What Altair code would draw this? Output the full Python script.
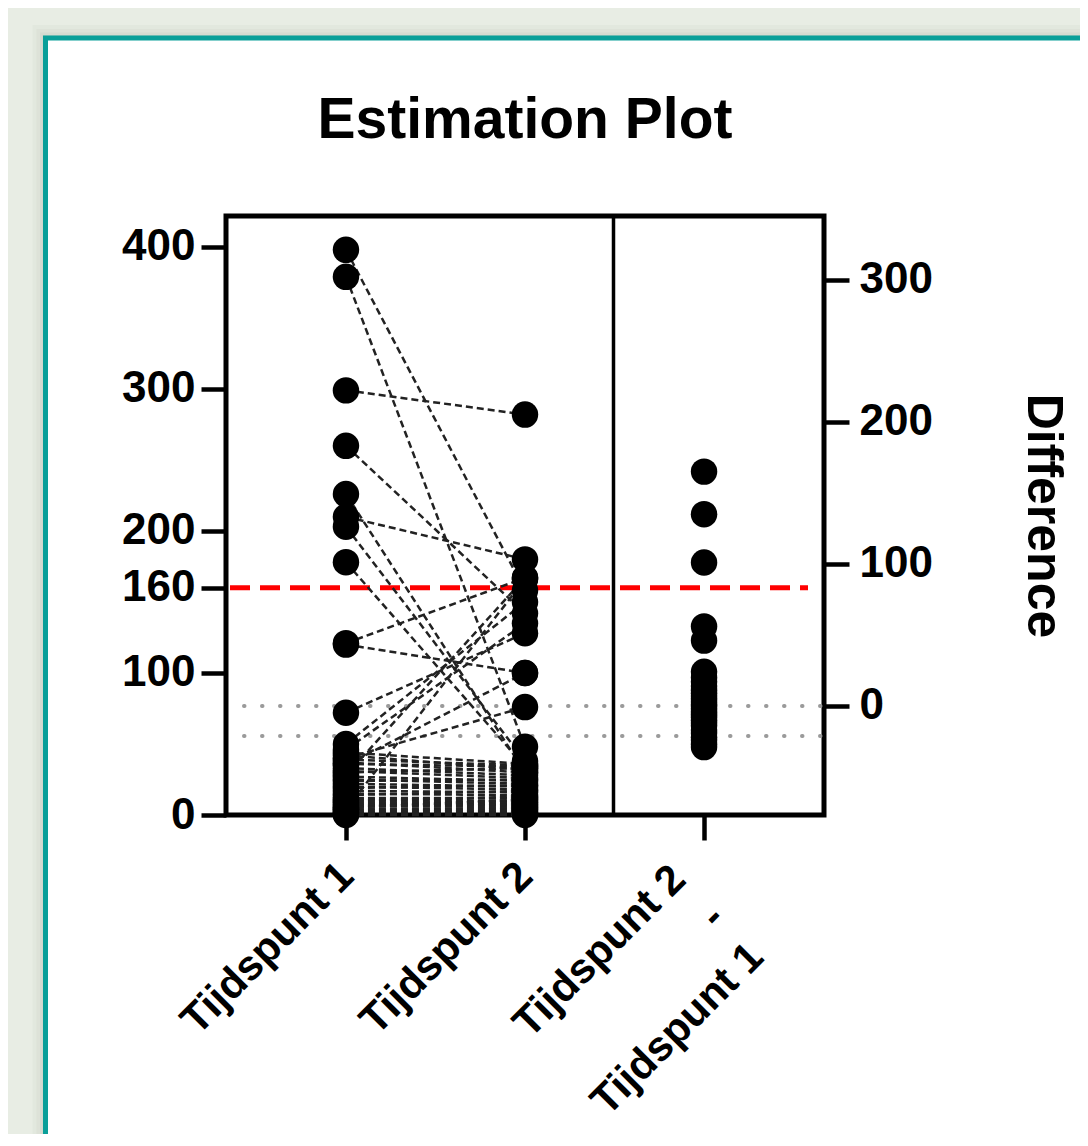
import altair as alt
import pandas as pd

# ---------------- data ----------------
title_text = "Estimation Plot"
categories = ["Tijdspunt 1", "Tijdspunt 2", "Tijdspunt 2 - Tijdspunt 1"]
diff_label_lines = ["Tijdspunt 2", "-", "Tijdspunt 1"]

t1_values = [398, 379, 299, 260, 226, 210, 203, 178, 121, 120, 72, 50, 46, 40, 35, 28, 4,
             44, 42, 39, 37, 36, 33, 31, 30, 27, 25, 24, 22, 20, 19, 17, 15, 14, 12, 11, 10,
             9, 8, 7, 6, 5, 4, 3, 2, 1, 1, 0]
t2_values = [158, 48, 282, 142, 30, 180, 38, 34, 167, 100, 128, 150, 135, 76, 100, 167, 166,
             36, 32, 35, 30, 34, 28, 26, 33, 24, 22, 25, 20, 18, 21, 16, 14, 17, 12, 10, 13,
             9, 8, 7, 6, 11, 5, 4, 3, 2, 1, 0]
diff_values = [165, 135, 101, 56, 46, 24, 20, 17, 14, 11, 9, 7, 5, 3, 1, 0, -2, -4, -6, -8,
               -10, -12, -14, -17, -19, -22, -24, -27, -29]

left_ticks = [0, 100, 160, 200, 300, 400]
right_ticks = [0, 100, 200, 300]
left_domain = [0, 421.8]
right_domain = [-76.8, 345.0]
threshold_level = [160]          # red dashed line (left scale)
dotted_levels = [76.8, 55.7]     # grey dotted lines (left scale)
right_title = "Difference"

# ---------------- layout / style ----------------
W, H = 598, 599
PAD_L, PAD_T = 218, 208
CANVAS_W, CANVAS_H = 1072, 1126
FONT = "Liberation Sans"
BG = "#e8ede4"
TEAL = "#0a9f99"
PT_SIZE = 700

rows = []
for i, (a, b) in enumerate(zip(t1_values, t2_values)):
    rows.append({"subject": i, "time": categories[0], "value": a})
    rows.append({"subject": i, "time": categories[1], "value": b})
long_df = pd.DataFrame(rows)
diff_df = pd.DataFrame({"time": [categories[2]] * len(diff_values), "diff": diff_values})
one = pd.DataFrame({"k": [0]})
thr_df = pd.DataFrame({"level": threshold_level})
dot_df = pd.DataFrame({"level": dotted_levels})

label_expr = "datum.value == '%s' ? ['%s', '%s', '%s'] : datum.label" % (
    categories[2], *diff_label_lines)
is_diff = "datum.value == '%s'" % categories[2]

x_axis = alt.Axis(
    orient="bottom", title=None, domain=False, grid=False, zindex=2,
    ticks=True, tickSize=25, tickWidth=4.5, tickColor="black",
    labelAngle=315, labelAlign="right", labelBaseline="middle",
    labelFont=FONT, labelFontSize=42, labelFontWeight="bold", labelColor="black",
    labelPadding={"condition": {"test": is_diff, "value": 32}, "value": 29},
    labelOffset={"condition": {"test": is_diff, "value": -26}, "value": 0},
    labelLimit=1000, labelOverlap=False, labelFlush=False,
    labelLineHeight=55, labelExpr=label_expr,
)
x_scale = alt.Scale(type="point", domain=categories, padding=0.67)

left_axis = alt.Axis(
    orient="left", title=None, values=left_ticks, domain=False, grid=False, zindex=2,
    tickSize=25, tickWidth=4.5, tickColor="black",
    labelFont=FONT, labelFontSize=44, labelFontWeight="bold", labelColor="black",
    labelPadding=6, labelOverlap=False, labelFlush=False,
)
right_axis = alt.Axis(
    orient="right", title=right_title, values=right_ticks, domain=False, grid=False, zindex=2,
    tickSize=25, tickWidth=4.5, tickColor="black",
    labelFont=FONT, labelFontSize=44, labelFontWeight="bold", labelColor="black",
    labelPadding=10, labelOverlap=False, labelFlush=False,
    titleFont=FONT, titleFontSize=50, titleFontWeight="bold", titleColor="black",
    titlePadding=85,
)
y_left = alt.Scale(domain=left_domain, nice=False, zero=False)
y_right = alt.Scale(domain=right_domain, nice=False, zero=False)

# ---------------- decoration: card with teal border ----------------
card_x, card_y = -180.5, -178
card_x2, card_y2 = 900, 1000
shadows = []
for w, op in [(26, 0.035), (18, 0.04), (11, 0.05), (6, 0.06)]:
    shadows.append(
        alt.Chart(one).mark_rect(fillOpacity=0, stroke="#5a6555", strokeOpacity=op, strokeWidth=w)
        .encode(x=alt.value(card_x), x2=alt.value(card_x2), y=alt.value(card_y), y2=alt.value(card_y2))
    )
card = alt.Chart(one).mark_rect(fill="white", stroke=TEAL, strokeWidth=5).encode(
    x=alt.value(card_x), x2=alt.value(card_x2), y=alt.value(card_y), y2=alt.value(card_y2))

title = alt.Chart(one).mark_text(
    text=title_text, font=FONT, fontSize=57, fontWeight="bold", color="black",
    align="center", baseline="alphabetic").encode(x=alt.value(W / 2), y=alt.value(-78))

frame = alt.Chart(one).mark_rect(fillOpacity=0, stroke="black", strokeWidth=5).encode(
    x=alt.value(0), x2=alt.value(W), y=alt.value(0), y2=alt.value(H))
divider = alt.Chart(one).mark_rule(color="black", strokeWidth=3.5).encode(
    x=alt.value(387.5), y=alt.value(0), y2=alt.value(H))

red = alt.Chart(thr_df).mark_rule(color="#ff0000", strokeWidth=5, strokeDash=[20, 10]).encode(
    y=alt.Y("level:Q", scale=y_left, axis=left_axis), x=alt.value(4), x2=alt.value(582))
dots = alt.Chart(dot_df).mark_rule(color="#9a9a9a", strokeWidth=4, strokeDash=[0.5, 17.5],
                                   strokeCap="round").encode(
    y=alt.Y("level:Q", scale=y_left, axis=left_axis), x=alt.value(18), x2=alt.value(596))

lines = alt.Chart(long_df).mark_line(color="#222222", strokeWidth=2.5, strokeDash=[7, 4]).encode(
    x=alt.X("time:N", scale=x_scale, axis=x_axis),
    y=alt.Y("value:Q", scale=y_left, axis=left_axis),
    detail="subject:N",
)
pts = alt.Chart(long_df).mark_circle(size=PT_SIZE, color="black", opacity=1).encode(
    x=alt.X("time:N", scale=x_scale, axis=x_axis),
    y=alt.Y("value:Q", scale=y_left, axis=left_axis),
)
left_group = alt.layer(*shadows, card, title, frame, divider, red, dots, lines, pts)

diff_pts = alt.Chart(diff_df).mark_circle(size=PT_SIZE, color="black", opacity=1).encode(
    x=alt.X("time:N", scale=x_scale, axis=x_axis),
    y=alt.Y("diff:Q", scale=y_right, axis=right_axis),
)

chart = (
    alt.layer(left_group, diff_pts)
    .resolve_scale(y="independent")
    .properties(
        width=W, height=H,
        autosize=alt.AutoSizeParams(type="none"),
        padding={"left": PAD_L, "top": PAD_T,
                 "right": CANVAS_W - PAD_L - W, "bottom": CANVAS_H - PAD_T - H},
        background=BG,
    )
    .configure_view(strokeWidth=0)
)

chart.save("out.html", embed_options={"renderer": "svg", "actions": False})
